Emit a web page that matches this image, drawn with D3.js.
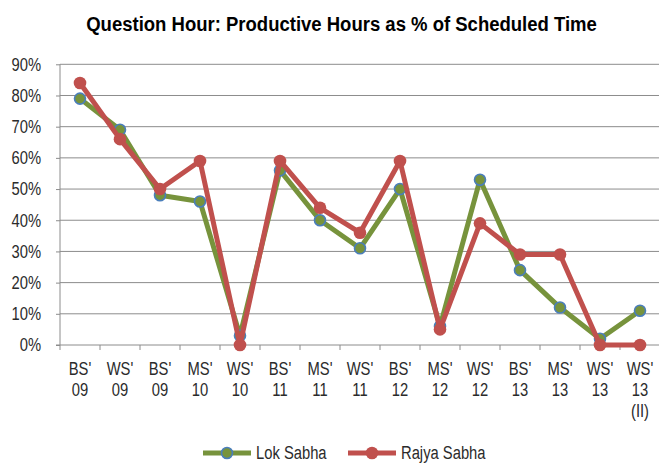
<!DOCTYPE html>
<html>
<head>
<meta charset="utf-8">
<script src="https://cdn.jsdelivr.net/npm/d3@7"></script>
<style>
  body { margin: 0; background: #fff; }
  svg text { font-family: "Liberation Sans", Arial, sans-serif; }
</style>
</head>
<body>
<svg id="chart" width="659" height="464"></svg>
<script>
const sessions = ["BS'\n09", "WS'\n09", "BS'\n09", "MS'\n10", "WS'\n10", "BS'\n11", "MS'\n11", "WS'\n11",
  "BS'\n12", "MS'\n12", "WS'\n12", "BS'\n13", "MS'\n13", "WS'\n13", "WS'\n13\n(II)"];
const lokSabha = [79, 69, 48, 46, 3, 56, 40, 31, 50, 6, 53, 24, 12, 2, 11];
const rajyaSabha = [84, 66, 50, 59, 0, 59, 44, 36, 59, 5, 39, 29, 29, 0, 0];
const yTicks = [0, 10, 20, 30, 40, 50, 60, 70, 80, 90];

const svg = d3.select("#chart");

const plotLeft = 60, plotRight = 660, plotTop = 64.3, plotBottom = 345;
const narrowFactor = 0.82; // no Arial Narrow here, so squeeze Liberation Sans

// squeeze text horizontally to mimic a narrow font
function narrow(sel) {
  sel.each(function () {
    const w = this.getComputedTextLength();
    d3.select(this)
      .attr("textLength", w * narrowFactor)
      .attr("lengthAdjust", "spacingAndGlyphs");
  });
}

const x = d3.scaleBand()
  .domain(d3.range(sessions.length))
  .range([plotLeft, plotRight]);

const y = d3.scaleLinear()
  .domain([0, 90])
  .range([plotBottom, plotTop]);

// gridlines
svg.append("g")
  .selectAll("line")
  .data(yTicks.slice(1))
  .enter()
  .append("line")
  .attr("x1", plotLeft)
  .attr("x2", plotRight)
  .attr("y1", (d) => y(d))
  .attr("y2", (d) => y(d))
  .attr("stroke", "#8c8c8c")
  .attr("stroke-width", 1);

// y axis
const yAxis = svg.append("g")
  .attr("transform", `translate(${plotLeft},0)`)
  .call(d3.axisLeft(y).tickValues(yTicks).tickSize(4).tickPadding(15).tickFormat((d) => d + "%"));
yAxis.select(".domain").attr("stroke", "#8c8c8c").attr("d", `M0,${plotBottom}V${plotTop}`);
yAxis.selectAll(".tick line").attr("stroke", "#8c8c8c");
yAxis.selectAll(".tick text")
  .attr("font-size", 18)
  .attr("fill", "#2b2b2b")
  .attr("font-family", null)
  .call(narrow);

// x axis
const xAxis = svg.append("g")
  .attr("transform", `translate(0,${plotBottom})`);
xAxis.append("line")
  .attr("x1", plotLeft - 4)
  .attr("x2", plotRight)
  .attr("stroke", "#8c8c8c");
xAxis.selectAll(".xtick")
  .data(d3.range(sessions.length + 1))
  .enter()
  .append("line")
  .attr("x1", (d) => plotLeft + d * x.step())
  .attr("x2", (d) => plotLeft + d * x.step())
  .attr("y1", 0)
  .attr("y2", 5)
  .attr("stroke", "#8c8c8c");

const xLabels = xAxis.selectAll(".xlabel")
  .data(sessions)
  .enter()
  .append("text")
  .attr("text-anchor", "middle")
  .attr("font-size", 18)
  .attr("fill", "#2b2b2b");
xLabels.each(function (d, i) {
  const t = d3.select(this);
  d.split("\n").forEach((part, j) => {
    t.append("tspan")
      .attr("x", x(i) + x.bandwidth() / 2)
      .attr("y", 30 + j * 21)
      .text(part);
  });
});
xLabels.selectAll("tspan").call(narrow);

// series
const series = [
  { name: "Lok Sabha", values: lokSabha, color: "#77933C", marker: "#77933C", edge: "#4A7EBB", r: 5.5, sw: 1.6 },
  { name: "Rajya Sabha", values: rajyaSabha, color: "#C0504D", marker: "#C0504D", edge: "#C0504D", r: 6.3, sw: 0 },
];

const line = d3.line()
  .x((d, i) => x(i) + x.bandwidth() / 2)
  .y((d) => y(d));

series.forEach((s) => {
  svg.append("path")
    .datum(s.values)
    .attr("d", line)
    .attr("fill", "none")
    .attr("stroke", s.color)
    .attr("stroke-width", 5)
    .attr("stroke-linejoin", "round");
  svg.append("g")
    .selectAll("circle")
    .data(s.values)
    .enter()
    .append("circle")
    .attr("cx", (d, i) => x(i) + x.bandwidth() / 2)
    .attr("cy", (d) => y(d))
    .attr("r", s.r)
    .attr("fill", s.marker)
    .attr("stroke", s.edge)
    .attr("stroke-width", s.sw);
});

// title, squeezed with a transform so its box stays inside the picture
const titleG = svg.append("g");
const title = titleG.append("text")
  .attr("text-anchor", "middle")
  .attr("font-size", 21)
  .attr("font-weight", "bold")
  .attr("fill", "#000")
  .text("Question Hour: Productive Hours as % of Scheduled Time");
const titleW = title.node().getComputedTextLength();
titleG.attr("transform", `translate(341.5,31) scale(${511 / titleW},1)`);

// legend
const legendX = [203, 348];
const legend = svg.append("g");
series.forEach((s, i) => {
  const lx = legendX[i];
  legend.append("line")
    .attr("x1", lx)
    .attr("x2", lx + 48)
    .attr("y1", 453)
    .attr("y2", 453)
    .attr("stroke", s.color)
    .attr("stroke-width", 5);
  legend.append("circle")
    .attr("cx", lx + 24)
    .attr("cy", 453)
    .attr("r", s.r)
    .attr("fill", s.marker)
    .attr("stroke", s.edge)
    .attr("stroke-width", s.sw);
  legend.append("text")
    .attr("x", lx + 53)
    .attr("y", 459)
    .attr("font-size", 18)
    .attr("fill", "#2b2b2b")
    .text(s.name)
    .call(narrow);
});
</script>
</body>
</html>
